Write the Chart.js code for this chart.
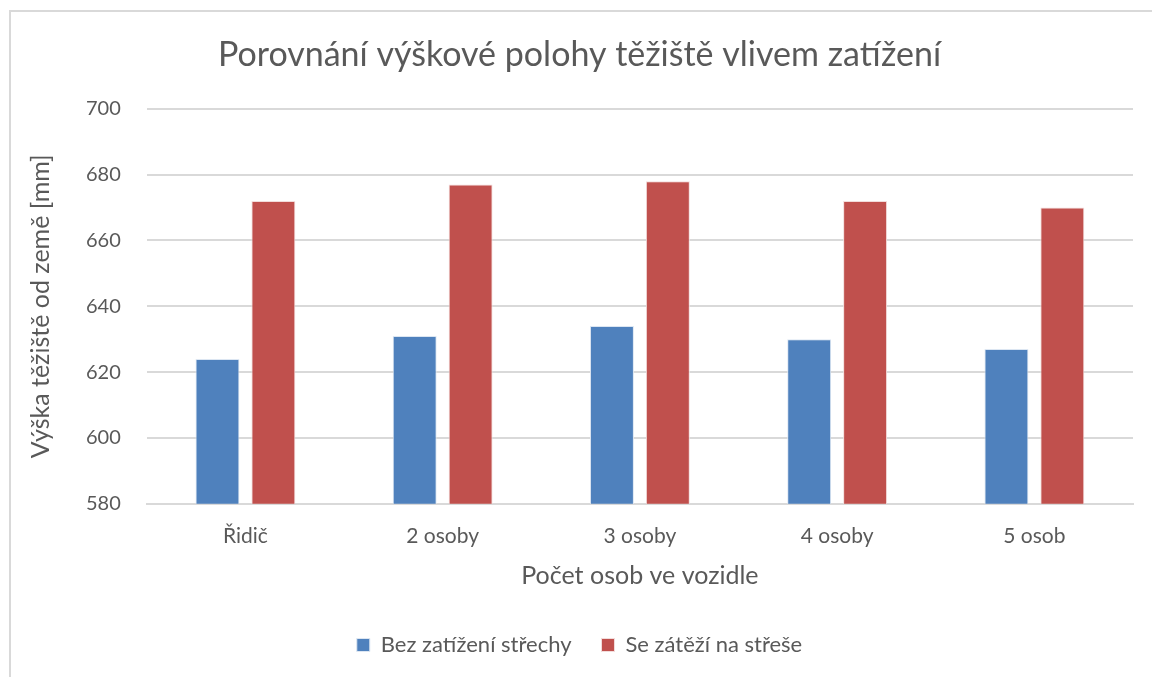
<!DOCTYPE html>
<html>
<head>
<meta charset="utf-8">
<script src="https://cdn.jsdelivr.net/npm/chart.js@4.4.0/dist/chart.umd.min.js"></script>
<style>
  body { margin: 0; background: #ffffff; }
  #wrap { width: 1152px; height: 677px; position: relative; }
</style>
</head>
<body>
<div id="wrap"><canvas id="graf" width="1152" height="677"></canvas></div>
<script>
// Data grafu
const kategorie = ['Řidič', '2 osoby', '3 osoby', '4 osoby', '5 osob'];
const bezZatizeni = [624, 631, 634, 630, 627];
const seZatezi = [672, 677, 678, 672, 670];
const nazvySerii = ['Bez zatížení střechy', 'Se zátěží na střeše'];

const textBarva = '#595959';
const pismo = 'Lato, "Open Sans", sans-serif';

// Rámeček kolem grafu (jen levý a horní okraj je vidět)
const ramecek = {
    id: 'ramecek',
    beforeDraw(chart) {
        const ctx = chart.ctx;
        ctx.save();
        ctx.fillStyle = '#ffffff';
        ctx.fillRect(0, 0, chart.width, chart.height);
        ctx.strokeStyle = '#d9d9d9';
        ctx.lineWidth = 2;
        ctx.beginPath();
        ctx.moveTo(10, chart.height);
        ctx.lineTo(10, 11);
        ctx.lineTo(chart.width, 11);
        ctx.stroke();
        ctx.restore();
    }
};

const ctx = document.getElementById('graf').getContext('2d');
new Chart(ctx, {
    type: 'bar',
    data: {
        labels: kategorie,
        datasets: [{
            label: nazvySerii[0],
            data: bezZatizeni,
            backgroundColor: '#4f81bd',
            borderColor: '#dce6f2',
            borderWidth: 1
        }, {
            label: nazvySerii[1],
            data: seZatezi,
            backgroundColor: '#c0504d',
            borderColor: '#f2dcdb',
            borderWidth: 1
        }]
    },
    options: {
        responsive: false,
        animation: false,
        layout: { padding: { left: 26, right: 19, top: 10, bottom: 11 } },
        datasets: {
            bar: { categoryPercentage: 0.567, barPercentage: 0.786 }
        },
        scales: {
            x: {
                grid: { display: false, drawTicks: false },
                border: { display: true, color: '#d9d9d9', width: 2 },
                ticks: { color: textBarva, font: { family: pismo, size: 21 }, padding: 20 },
                title: {
                    display: true,
                    text: 'Počet osob ve vozidle',
                    color: textBarva,
                    font: { family: pismo, size: 25 },
                    padding: { top: -8, bottom: 13 }
                }
            },
            y: {
                min: 580,
                max: 700,
                grid: { color: '#d9d9d9', lineWidth: 2, drawTicks: false },
                border: { display: false },
                ticks: { stepSize: 20, color: textBarva, font: { family: pismo, size: 20 }, padding: 26 },
                title: {
                    display: true,
                    text: 'Výška těžiště od země [mm]',
                    color: textBarva,
                    font: { family: pismo, size: 25 },
                    padding: { top: 0, bottom: 4 }
                }
            }
        },
        plugins: {
            title: {
                display: true,
                text: 'Porovnání výškové polohy těžiště vlivem zatížení',
                color: textBarva,
                font: { family: pismo, size: 34, weight: 'normal' },
                padding: { top: 25, bottom: 33 }
            },
            legend: {
                position: 'bottom',
                labels: {
                    color: textBarva,
                    font: { family: pismo, size: 22 },
                    boxWidth: 13,
                    boxHeight: 13,
                    padding: 30
                }
            },
            tooltip: { enabled: false }
        }
    },
    plugins: [ramecek]
});
</script>
</body>
</html>
